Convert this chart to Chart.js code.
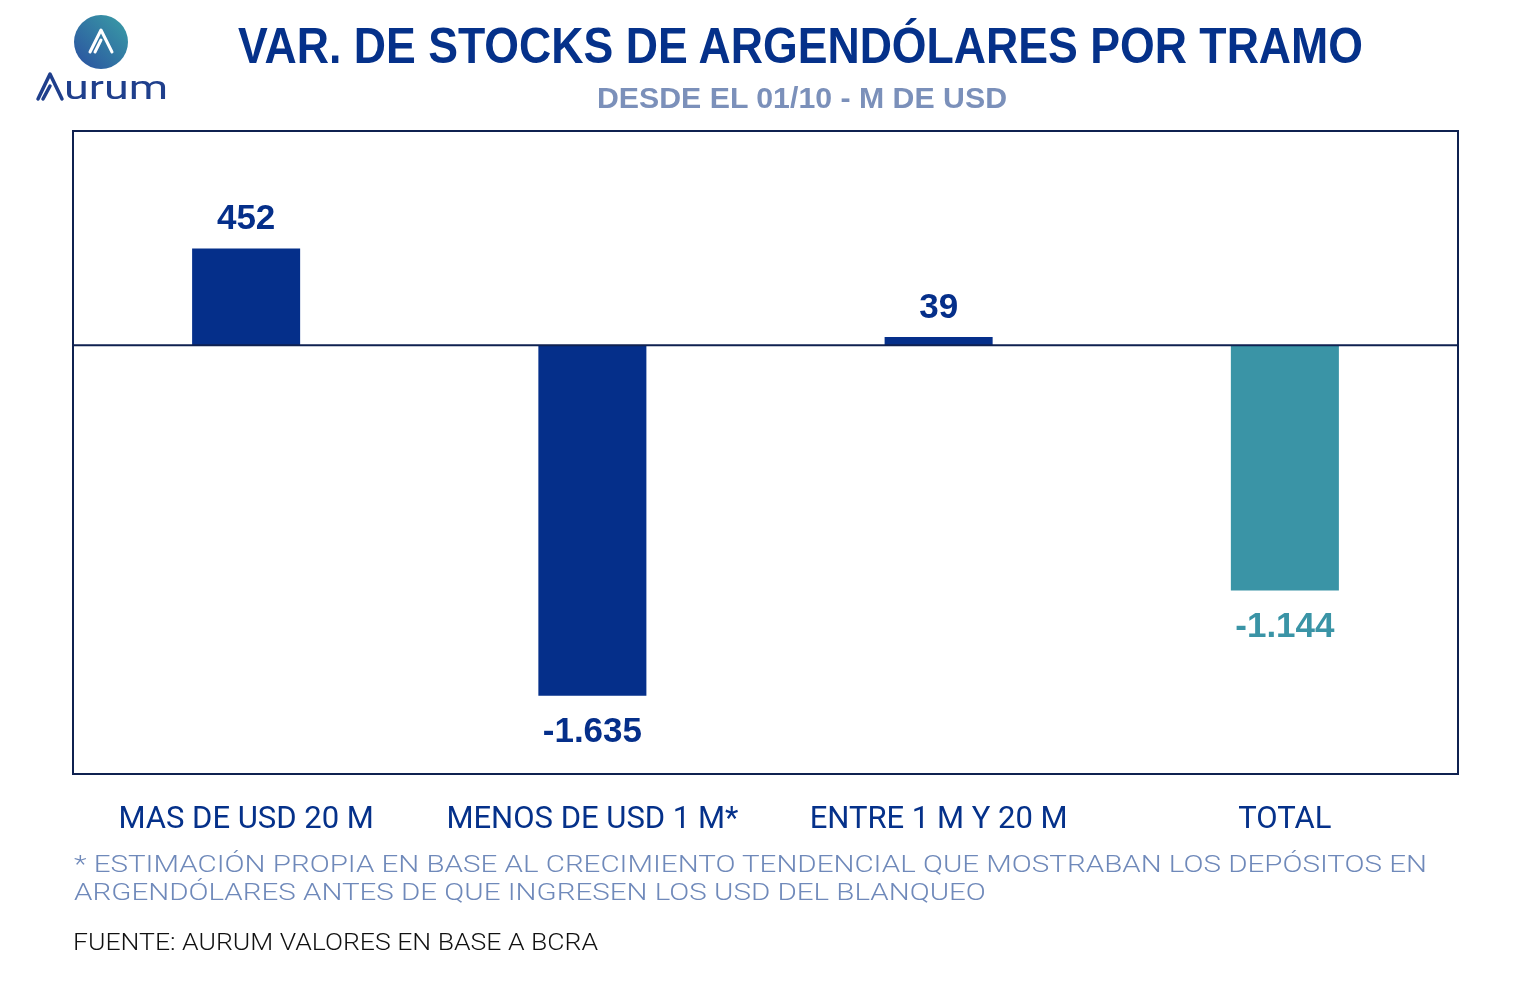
<!DOCTYPE html>
<html>
<head>
<meta charset="utf-8">
<script src="https://cdn.jsdelivr.net/npm/chart.js@4.4.1/dist/chart.umd.min.js"></script>
<style>
  body { margin: 0; background: #fff; width: 1525px; height: 996px; overflow: hidden; position: relative; }
  #wrap { position: absolute; left: 0; top: 0; width: 1525px; height: 996px; }
  .txt { position: absolute; white-space: nowrap; transform-origin: 0 0; }
  #title { font: bold 50px "Liberation Sans", Arial, sans-serif; color: #05318a; line-height: 50px; }
  #subtitle { font: bold 30px "Liberation Sans", Arial, sans-serif; color: #7b90ba; line-height: 30px; }
  #note { font: 300 24px Roboto, sans-serif; color: #6f89ba; line-height: 28px; }
  #source { font: 300 24px Roboto, sans-serif; color: #111; line-height: 24px; }
  #logoText { font: 400 34px Roboto, sans-serif; color: #1f3f8c; line-height: 34px; }
</style>
</head>
<body>
<div id="wrap"><canvas id="chart" width="1525" height="996"></canvas></div>

<svg style="position:absolute;left:0;top:0" width="200" height="110">
  <defs>
    <linearGradient id="lg" x1="0" y1="1" x2="1" y2="0">
      <stop offset="0" stop-color="#2a4fa0"/>
      <stop offset="1" stop-color="#3a9fa6"/>
    </linearGradient>
  </defs>
  <circle cx="101" cy="42" r="27" fill="url(#lg)"/>
  <path d="M90 52 L101 30 L112 52 M95 52 L101 40" stroke="#fff" stroke-width="3" fill="none" stroke-linecap="round" stroke-linejoin="round"/>
  <path d="M38 99 L50 74 L62 99 M43 99 L50 86" stroke="#1f3f8c" stroke-width="3.5" fill="none" stroke-linecap="round" stroke-linejoin="round"/>
</svg>
<div class="txt" id="logoText" data-w="104" style="left:64px;top:70px">urum</div>

<div class="txt" id="title" data-w="1125" data-cx="800" style="top:21px">VAR. DE STOCKS DE ARGENDÓLARES POR TRAMO</div>
<div class="txt" id="subtitle" data-w="410" data-cx="802" style="top:83px">DESDE EL 01/10 - M DE USD</div>
<div class="txt" id="note" data-w="1353" style="left:74px;top:850px">* ESTIMACIÓN PROPIA EN BASE AL CRECIMIENTO TENDENCIAL QUE MOSTRABAN LOS DEPÓSITOS EN<br>ARGENDÓLARES ANTES DE QUE INGRESEN LOS USD DEL BLANQUEO</div>
<div class="txt" id="source" data-w="525" style="left:73px;top:930px">FUENTE: AURUM VALORES EN BASE A BCRA</div>

<script>
// data
const tramos = ['MAS DE USD 20 M', 'MENOS DE USD 1 M*', 'ENTRE 1 M Y 20 M', 'TOTAL'];
const variacion = [452, -1635, 39, -1144];
const colores = ['#052f8a', '#052f8a', '#052f8a', '#3a94a6'];

function formatNum(v) {
  const s = Math.abs(v).toString().replace(/\B(?=(\d{3})+(?!\d))/g, '.');
  return (v < 0 ? '-' : '') + s;
}

// squeeze texts to the reference widths
document.querySelectorAll('.txt').forEach(el => {
  const w = el.getBoundingClientRect().width;
  const target = +el.dataset.w;
  const k = target / w;
  el.style.transform = 'scaleX(' + k + ')';
  if (el.dataset.cx) el.style.left = (+el.dataset.cx - target / 2) + 'px';
});

// box, zero line and value labels
const boxPlugin = {
  id: 'box',
  afterDatasetsDraw(chart) {
    const ctx = chart.ctx;
    const a = chart.chartArea;
    const y = chart.scales.y;
    ctx.save();
    ctx.strokeStyle = '#0f2150';
    ctx.lineWidth = 2;
    ctx.strokeRect(a.left, a.top, a.right - a.left, a.bottom - a.top);
    const y0 = y.getPixelForValue(0);
    ctx.beginPath();
    ctx.moveTo(a.left, y0);
    ctx.lineTo(a.right, y0);
    ctx.stroke();

    ctx.font = 'bold 35px "Liberation Sans", Arial, sans-serif';
    ctx.textAlign = 'center';
    ctx.textBaseline = 'middle';
    chart.getDatasetMeta(0).data.forEach((bar, i) => {
      const v = variacion[i];
      ctx.fillStyle = colores[i];
      const ty = v >= 0 ? bar.y - 29 : bar.y + 37;
      ctx.fillText(formatNum(v), bar.x, ty);
    });
    ctx.restore();
  }
};

new Chart(document.getElementById('chart'), {
  type: 'bar',
  data: {
    labels: tramos,
    datasets: [{
      data: variacion,
      backgroundColor: colores,
      categoryPercentage: 1,
      barPercentage: 0.312
    }]
  },
  options: {
    responsive: false,
    animation: false,
    layout: { padding: { left: 73, right: 67, top: 131, bottom: 0 } },
    plugins: { legend: { display: false }, tooltip: { enabled: false } },
    scales: {
      x: {
        grid: { display: false, drawTicks: false },
        border: { display: false },
        ticks: {
          color: '#05318a',
          padding: 28,
          maxRotation: 0,
          font: { family: 'Roboto', size: 31 }
        },
        afterFit(scale) { scale.height = 222; }
      },
      y: {
        display: false,
        min: -2000,
        max: 1000
      }
    }
  },
  plugins: [boxPlugin]
});
</script>
</body>
</html>
